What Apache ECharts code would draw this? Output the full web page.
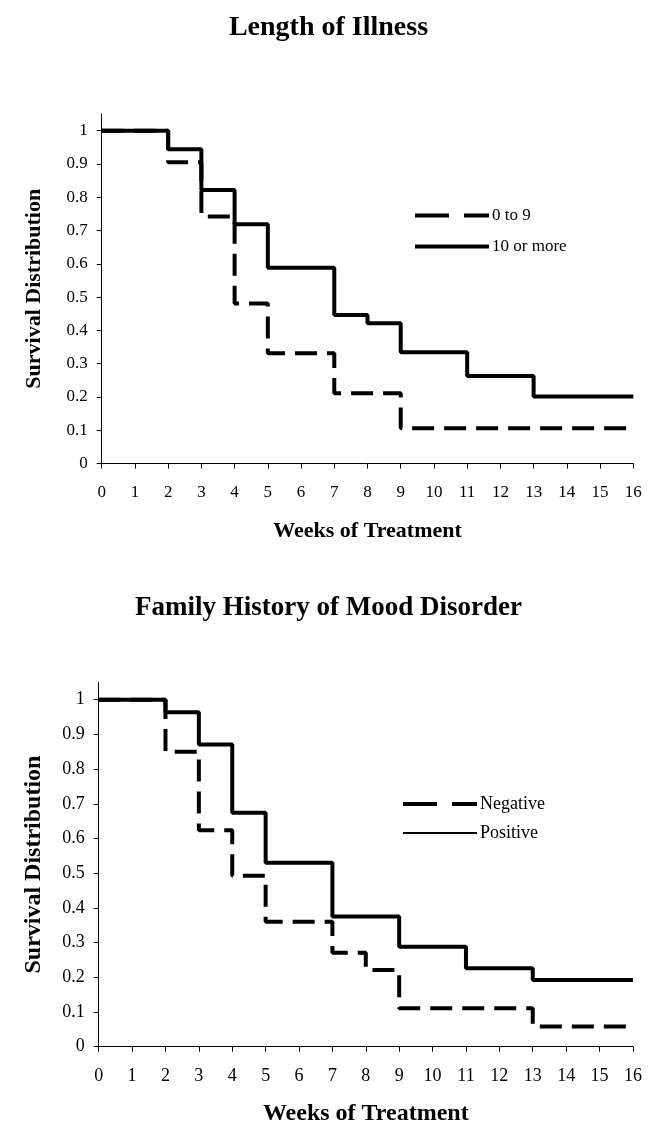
<!DOCTYPE html>
<html>
<head>
<meta charset="utf-8">
<script src="https://cdn.jsdelivr.net/npm/echarts@6/dist/echarts.min.js"></script>
<style>
html,body{margin:0;padding:0;background:#fff;}
#c{width:657px;height:1135px;}
</style>
</head>
<body>
<div id="c"></div>
<script>
// ---- data ----
var title1 = 'Length of Illness';
var title2 = 'Family History of Mood Disorder';
var xName = 'Weeks of Treatment';
var yName = 'Survival Distribution';
var yTicks = [0, 0.1, 0.2, 0.3, 0.4, 0.5, 0.6, 0.7, 0.8, 0.9, 1];

var illShortName = '0 to 9';
var illShortWeeks = [0, 2, 3, 4, 5, 7, 9, 16];
var illShortSurv  = [1, 0.905, 0.742, 0.481, 0.331, 0.211, 0.106, 0.106];

var illLongName = '10 or more';
var illLongWeeks = [0, 2, 3, 4, 5, 7, 8, 9, 11, 13, 16];
var illLongSurv  = [1, 0.944, 0.822, 0.719, 0.588, 0.446, 0.421, 0.334, 0.263, 0.201, 0.201];

var negName = 'Negative';
var negWeeks = [0, 2, 3, 4, 5, 7, 8, 9, 13, 16];
var negSurv  = [1, 0.85, 0.624, 0.493, 0.36, 0.271, 0.221, 0.111, 0.058, 0.058];

var posName = 'Positive';
var posWeeks = [0, 2, 3, 4, 5, 7, 9, 11, 13, 16];
var posSurv  = [1, 0.964, 0.871, 0.674, 0.53, 0.375, 0.288, 0.226, 0.192, 0.192];

function pairs(xs, ys) { return xs.map(function (x, i) { return [x, ys[i]]; }); }

var FONT = 'Liberation Serif';

function xAxisCfg(gi, fs, nfs, gap) {
  return {
    gridIndex: gi, type: 'value', min: 0, max: 16, interval: 1,
    name: xName, nameLocation: 'middle', nameGap: gap,
    nameTextStyle: { fontFamily: FONT, fontWeight: 'bold', fontSize: nfs, color: '#000' },
    axisLine: { onZero: false, lineStyle: { color: '#000', width: 1 } },
    axisTick: { show: true, length: 5, lineStyle: { color: '#000' } },
    axisLabel: { fontFamily: FONT, fontSize: fs, color: '#000', margin: 21 },
    splitLine: { show: false }
  };
}
function yAxisCfg(gi, fs, nfs, gap) {
  return {
    gridIndex: gi, type: 'value', min: 0, max: 1.05,
    name: yName, nameLocation: 'middle', nameGap: gap,
    nameTextStyle: { fontFamily: FONT, fontWeight: 'bold', fontSize: nfs, color: '#000' },
    axisLine: { show: true, lineStyle: { color: '#000', width: 1 } },
    axisTick: { show: true, length: 5, customValues: yTicks, lineStyle: { color: '#000' } },
    axisLabel: { fontFamily: FONT, fontSize: fs, color: '#000', margin: 14, customValues: yTicks,
      formatter: function (v) { return String(Math.round(v * 10) / 10); } },
    splitLine: { show: false }
  };
}
function lineSeries(name, xi, data, dashed, width) {
  return {
    name: name, type: 'line', xAxisIndex: xi, yAxisIndex: xi,
    step: 'end', symbol: 'none', silent: true, animation: false,
    data: data,
    lineStyle: { color: '#000', width: width, type: dashed ? [22, 10] : 'solid', cap: 'butt' },
    itemStyle: { color: '#000' }
  };
}

var chart = echarts.init(document.getElementById('c'), null, { renderer: 'canvas' });
chart.setOption({
  animation: false,
  backgroundColor: '#fff',
  title: [
    { text: title1, left: 'center', top: 9,
      textStyle: { fontFamily: FONT, fontWeight: 'bold', fontSize: 28, color: '#000' } },
    { text: title2, left: 'center', top: 590,
      textStyle: { fontFamily: FONT, fontWeight: 'bold', fontSize: 27, color: '#000' } }
  ],
  legend: [
    { id: 'lg1', orient: 'vertical', left: 413, top: 207, padding: 0,
      itemWidth: 74, itemHeight: 14, itemGap: 14,
      selectedMode: false,
      itemStyle: { opacity: 0 },
      data: [
        { name: illShortName, lineStyle: { width: 4, type: [34, 15], color: '#000' } },
        { name: illLongName, lineStyle: { width: 4, type: 'solid', color: '#000' } }
      ],
      textStyle: { fontFamily: FONT, fontSize: 17, color: '#000', padding: [0, 0, 0, -2] } },
    { id: 'lg2', orient: 'vertical', left: 401, top: 795, padding: 0,
      itemWidth: 74, itemHeight: 14, itemGap: 11,
      selectedMode: false,
      itemStyle: { opacity: 0 },
      data: [
        { name: negName, lineStyle: { width: 4, type: [34, 15], color: '#000' } },
        { name: posName, lineStyle: { width: 2, type: 'solid', color: '#000' } }
      ],
      textStyle: { fontFamily: FONT, fontSize: 18, color: '#000', padding: [0, 0, 0, -2] } }
  ],
  grid: [
    { left: 101.7, top: 114, width: 531.6, height: 349.5, containLabel: false },
    { left: 98.7, top: 682.4, width: 534.2, height: 364.3, containLabel: false }
  ],
  xAxis: [ xAxisCfg(0, 17, 22, 57), xAxisCfg(1, 18, 24, 55) ],
  yAxis: [ yAxisCfg(0, 17, 22, 56), yAxisCfg(1, 18, 24, 53) ],
  series: [
    lineSeries(illShortName, 0, pairs(illShortWeeks, illShortSurv), true, 4),
    lineSeries(illLongName, 0, pairs(illLongWeeks, illLongSurv), false, 4),
    lineSeries(negName, 1, pairs(negWeeks, negSurv), true, 4),
    lineSeries(posName, 1, pairs(posWeeks, posSurv), false, 4)
  ]
});
</script>
</body>
</html>
